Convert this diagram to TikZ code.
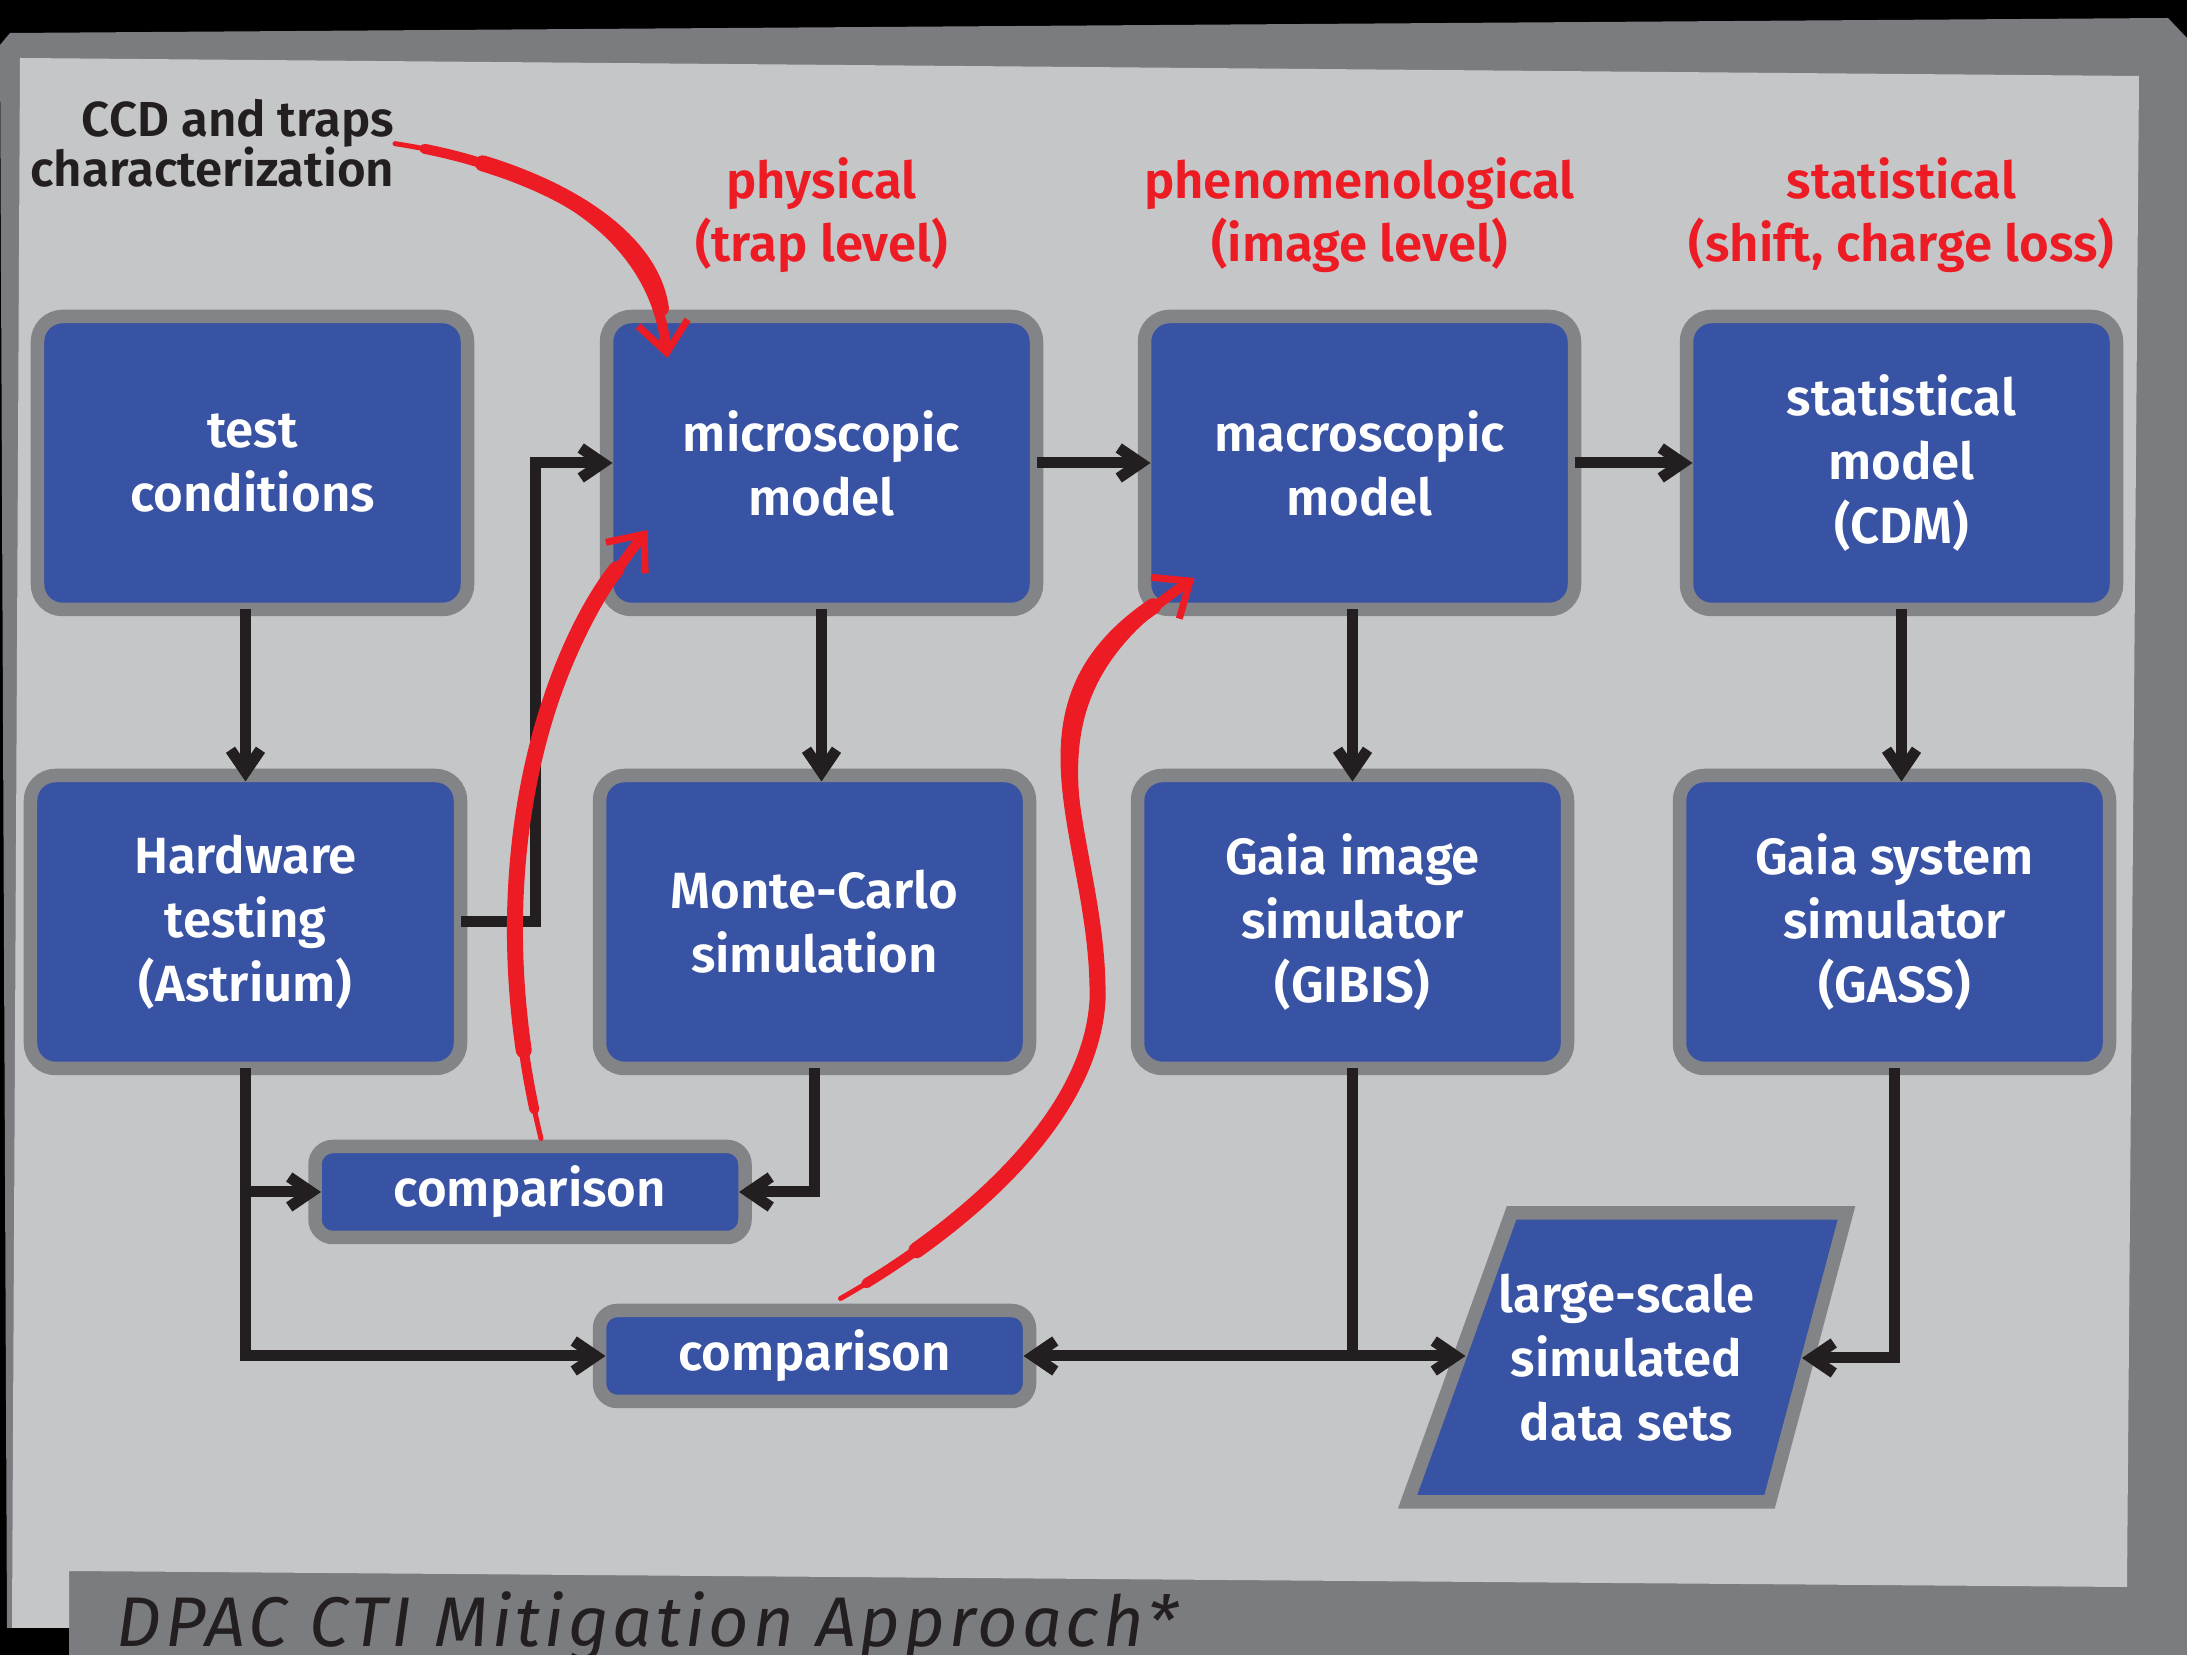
\documentclass[tikz,border=0pt]{standalone}
\usepackage{fontspec}
\setmainfont{Fira Sans}[BoldFont={* SemiBold}]
\usetikzlibrary{arrows.meta,positioning,calc}
\definecolor{dpacFrame}{HTML}{7B7C80}
\definecolor{dpacPanel}{HTML}{C5C6C8}
\definecolor{dpacBorder}{HTML}{838488}
\definecolor{dpacBlue}{HTML}{3953A4}
\definecolor{dpacRed}{HTML}{ED1C24}
\definecolor{dpacInk}{HTML}{231F20}
\newcommand{\tightlines}{\lineskiplimit=-10pt\relax}
\newcommand{\handspacing}{\addfontfeatures{LetterSpace=5.5}}
% red hand-drawn stroke, thin at its start
\newcommand{\brushstroke}[1]{%
  \draw[brush, line width=0.05cm, brushtip] #1;
  \draw[brush, line width=0.10cm, shorten >=0.15cm, dash pattern=on 30cm off 0.3cm, dash phase=30cm] #1;
  \draw[brush, line width=0.16cm, shorten >=0.5cm, dash pattern=on 30cm off 0.9cm, dash phase=30cm] #1;}

\begin{document}
\begin{tikzpicture}[
  box/.style={draw=dpacBorder, fill=dpacBlue, line width=0.135cm, rounded corners=0.25cm, outer sep=0pt,
    minimum width=4.30cm, minimum height=2.93cm, align=center, text=white,
    font=\fontsize{14.5}{18.2}\selectfont\bfseries},
  cmp/.style={box, rounded corners=0.18cm, minimum height=0.91cm},
  slab/.style={draw=dpacBorder, fill=dpacBlue, line width=0.135cm, line join=miter},
  slabtext/.style={align=center, text=white, font=\fontsize{14.5}{18.2}\selectfont\bfseries},
  tier/.style={text=dpacRed, align=center, inner sep=0pt, font=\fontsize{14.5}{18}\selectfont\bfseries},
  >={Straight Barb[sharp, length=0.22cm, width=0.30cm]},
  arrow/.style={->, draw=dpacInk, line width=0.11cm, shorten >=-0.06cm},
  link/.style={draw=dpacInk, line width=0.11cm},
  brush/.style={draw=dpacRed, line cap=round},
  brushtip/.style={-{Straight Barb[length=0.3cm, width=0.5cm, line width=0.07cm]}}
]
\useasboundingbox (0,0) rectangle (21.87,-16.55);
\fill[black] (0,0) rectangle (21.87,-16.55);
% tilted card and its title bar
\fill[dpacFrame] (0,-0.45) -- (0.10,-0.33) -- (21.68,-0.18) -- (21.87,-0.38) -- (21.87,-16.55)
  -- (0.69,-16.55) -- (0.69,-16.28) -- (0.07,-16.28) -- cycle;
\fill[dpacPanel] (0.20,-0.58) -- (21.39,-0.76) -- (21.27,-15.87) -- (0.69,-15.71)
  -- (0.69,-16.28) -- (0.12,-16.28) -- cycle;
\node[anchor=base west, inner sep=0pt, text=dpacInk, font=\fontsize{20}{24}\selectfont\itshape\handspacing] (title) at (1.16,-16.47) {DPAC CTI Mitigation Approach*};

\node[box] (test) at (2.525,-4.63) {test\\conditions};
\node[box, right=1.39cm of test] (micro) {microscopic\\model};
\node[box, right=1.08cm of micro] (macro) {macroscopic\\model};
\node[box, right=1.12cm of macro] (stat) {statistical\\model\\(CDM)};
\node[box, below=1.66cm of test, xshift=-0.07cm] (hw) {Hardware\\testing\\(Astrium)};
\node[box, right=1.39cm of hw] (mc) {Monte-Carlo\\simulation};
\node[box, right=1.08cm of mc] (gibis) {Gaia image\\simulator\\(GIBIS)};
\node[box, right=1.12cm of gibis] (gass) {Gaia system\\simulator\\(GASS)};
\coordinate (midA) at ($(hw.south)!0.5!(mc.south)$);
\node[cmp, below=0.78cm of midA] (cmpA) {comparison};
\node[cmp, below=2.42cm of mc] (cmpB) {comparison};

% slanted data-set slab
\coordinate (midB) at ($(gibis.south)!0.5!(gass.south)$);
\coordinate (dataC) at ([shift={(0.03,-2.895)}]midB);
\filldraw[slab] ($(dataC)+(-1.15,1.45)$) -- ($(dataC)+(2.20,1.45)$) -- ($(dataC)+(1.43,-1.44)$)
  -- ($(dataC)+(-2.19,-1.44)$) -- cycle;
\coordinate (dataW) at ($(dataC)+(-1.67,0)$);
\coordinate (dataE) at ($(dataC)+(1.815,0)$);
\node[slabtext] (data) at (dataC) {large-scale\\simulated\\data sets};

\node[tier, above=0.43cm of micro] (physical) {physical\\(trap level)};
\node[tier, above=0.43cm of macro] (pheno) {phenomenological\\(image level)};
\node[tier, above=0.43cm of stat] (statlevel) {statistical\\(shift, charge loss)};
\node[anchor=north east, align=right, inner sep=0pt, text=dpacInk, font=\fontsize{14}{14.2}\selectfont\bfseries\tightlines] (ccd) at (3.95,-0.99) {CCD and traps\\characterization};

\draw[arrow] (test.south -| hw.north) -- (hw.north);
\draw[arrow] (hw.east) -- ++(0.75,0) |- (micro.west);
\draw[arrow] (micro.south) -- (micro.south |- mc.north);
\draw[arrow] (mc.south) |- (cmpA.east);
\draw[arrow] (hw.south) |- (cmpB.west);
\draw[arrow] (hw.south |- cmpA.west) -- (cmpA.west);
\draw[arrow] (micro.east) -- (macro.west);
\draw[arrow] (macro.east) -- (stat.west);
\draw[arrow] (macro.south -| gibis.north) -- (gibis.north);
\draw[arrow] (stat.south) -- (stat.south |- gass.north);
\draw[link] (gibis.south) -- (gibis.south |- cmpB.east);
\draw[arrow, <->, shorten <=-0.06cm] (cmpB.east) -- (cmpB.east -| dataW);
\draw[arrow] (gass.south) |- (dataE);

\brushstroke{(ccd.east) .. controls +(1.45,-0.22) and +(-0.17,1.28) .. ([shift={(0.61,-0.415)}]micro.north west)}
\brushstroke{([shift={(0.11,0.08)}]cmpA.north) .. controls +(-0.71,2.88) and +(-0.87,-1.10) .. ([shift={(0.41,0.795)}]micro.south west)}
\brushstroke{([shift={(0.26,0.12)}]cmpB.north) .. controls +(1.20,0.68) and +(-0.07,-1.20) .. ++(2.57,2.98) .. controls +(0.03,1.60) and +(-1.93,-1.32) .. ([shift={(0.50,0.315)}]macro.south west)}
\end{tikzpicture}
\end{document}
